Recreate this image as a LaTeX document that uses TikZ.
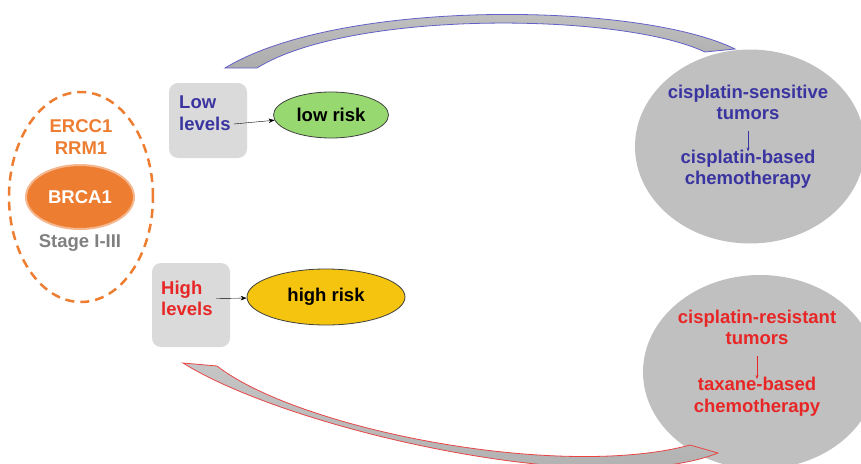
\documentclass[tikz,border=0pt]{standalone}
\usepackage{fontspec}
\setmainfont{Liberation Sans}
\usetikzlibrary{shapes.geometric,arrows.meta}
\definecolor{bcorange}{RGB}{237,125,49}
\definecolor{lowblue}{RGB}{58,52,160}
\definecolor{highred}{RGB}{232,38,38}
\definecolor{boxgray}{RGB}{218,218,218}
\definecolor{tumorgray}{RGB}{192,192,192}
\definecolor{riskgreen}{RGB}{152,216,112}
\definecolor{riskyellow}{RGB}{244,196,14}
\definecolor{arcblue}{RGB}{100,96,200}
\definecolor{arcred}{RGB}{232,70,70}

\begin{document}
\begin{tikzpicture}[x=1pt, y=-1pt, font=\fontsize{18.5}{21.5}\selectfont\bfseries,
	levelbox/.style={fill=boxgray, rounded corners=9pt, minimum width=78pt},
	risk/.style={ellipse, draw=black!75, thick, inner sep=0pt},
	tumor/.style={ellipse, fill=tumorgray, inner sep=0pt},
	ttext/.style={align=center, inner sep=1pt},
	band/.style={top color=gray!45, bottom color=gray!65, thick}]
	\clip (0,0) rectangle (861,463);
	\node[ellipse, draw=bcorange, dash pattern=on 9pt off 6pt, line width=2.5pt, minimum width=144pt, minimum height=210pt] (panel) at (81,197) {};
	\node[bcorange, align=center] (markers) at (81,137) {ERCC1\\RRM1};
	\node[ellipse, fill=bcorange, draw=bcorange!55, line width=2pt, minimum width=108pt, minimum height=64pt, text=white] (brca) at (80,197) {BRCA1};
	\node[text=gray] (stage) at (80,243) {Stage I-III};
	\node[levelbox, minimum height=75pt] (lowbox) at (208,120.5) {};
	\node[lowblue, align=left, anchor=west, inner sep=0pt] (lowtxt) at (179,113) {Low\\levels};
	\node[risk, fill=riskgreen, minimum width=115pt, minimum height=46pt] (lowrisk) at (331,115) {low risk};
	\draw[-{Stealth[length=6pt]}] ([xshift=3pt, yshift=-11pt]lowtxt.east) -- (lowrisk);
	\node[levelbox, minimum height=84pt] (highbox) at (191,305) {};
	\node[highred, align=left, anchor=west, inner sep=0pt] (hightxt) at (161,298.5) {High\\levels};
	\node[risk, fill=riskyellow, minimum width=158pt, minimum height=56pt] (highrisk) at (326,297) {high risk};
	\draw[-{Stealth[length=6pt]}] ([xshift=3pt]hightxt.east) -- (highrisk);
	\node[tumor, minimum width=230pt, minimum height=194pt] (sensitive) at (750,146.5) {};
	\node[lowblue, ttext] (senstxt) at (748,102.5) {cisplatin-sensitive\\tumors};
	\node[lowblue, ttext] (cistxt) at (748,169) {cisplatin-based\\chemotherapy};
	\draw[lowblue, -{Stealth[length=4pt]}, shorten <=10pt, shorten >=-3pt] (senstxt.south) -- (cistxt.north);
	\node[tumor, minimum width=234pt, minimum height=194pt] (resistant) at (760,372) {};
	\node[highred, ttext] (restxt) at (757,327.5) {cisplatin-resistant\\tumors};
	\node[highred, ttext] (taxtxt) at (757,396.5) {taxane-based\\chemotherapy};
	\draw[highred, -{Stealth[length=4pt]}, shorten <=10pt, shorten >=-3pt] (restxt.south) -- (taxtxt.north);
	\shade[band, draw=arcblue]
		(225,68) .. controls (340,-2) and (640,2) .. (735,49)
		-- (705,52) .. controls (620,12) and (350,10) .. (257,68) -- cycle;
	\shade[band, draw=arcred]
		(183,363) .. controls (290,430) and (600,500) .. (718,453)
		-- (690,445) .. controls (560,480) and (300,430) .. (217,366) -- cycle;
\end{tikzpicture}
\end{document}
